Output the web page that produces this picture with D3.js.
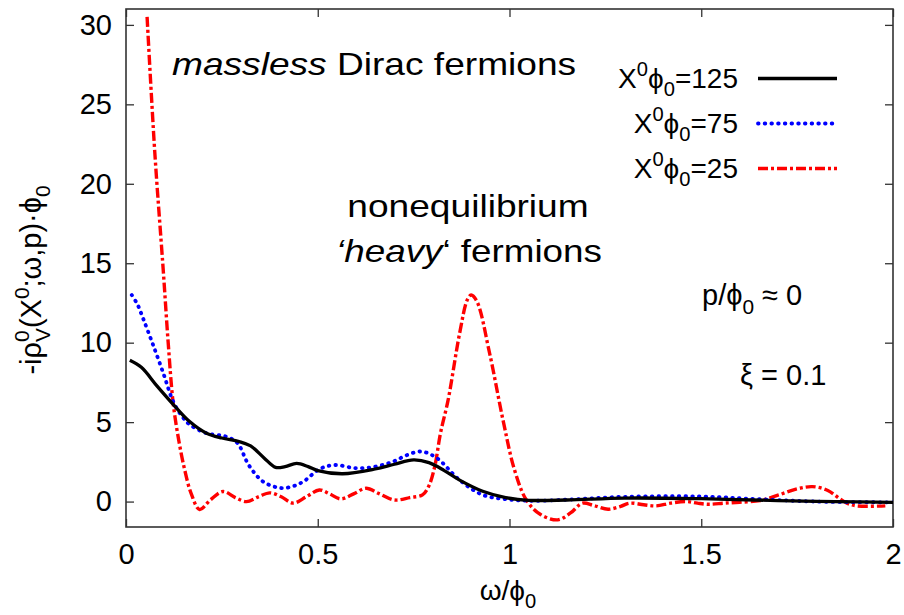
<!DOCTYPE html>
<html>
<head>
<meta charset="utf-8">
<script src="https://d3js.org/d3.v7.min.js"></script>
<style>
  body { margin: 0; background: #fff; }
  svg { font-family: "Liberation Sans", Arial, sans-serif; }
  .tick text { font-size: 29px; fill: #000; }
  .tick line { stroke: #333; stroke-width: 1.3px; }
</style>
</head>
<body>
<svg width="904" height="615"></svg>
<script>
// values
var xTicks = [0, 0.5, 1, 1.5, 2];
var yTicks = [0, 5, 10, 15, 20, 25, 30];

var series125 = [[0.01, 8.9], [0.04, 8.45], [0.08, 7.3], [0.12, 6.2], [0.165, 5.05], [0.21, 4.3],
  [0.25, 4.0], [0.295, 3.78], [0.325, 3.5], [0.36, 2.75], [0.39, 2.15], [0.415, 2.2], [0.445, 2.4],
  [0.475, 2.2], [0.5, 1.95], [0.565, 1.75], [0.65, 2.05], [0.7, 2.35], [0.75, 2.62], [0.79, 2.45],
  [0.83, 1.95], [0.87, 1.35], [0.93, 0.65], [0.99, 0.25], [1.05, 0.08], [1.15, 0.1], [1.3, 0.22],
  [1.5, 0.18], [1.7, 0.06], [1.85, 0.0], [2.0, -0.05]];

var series75 = [[0.015, 13.0], [0.03, 12.4], [0.045, 11.5], [0.07, 9.9], [0.097, 8.1], [0.123, 6.3],
  [0.145, 5.4], [0.166, 4.85], [0.21, 4.3], [0.26, 4.1], [0.29, 3.7], [0.32, 2.3], [0.355, 1.3],
  [0.385, 0.95], [0.41, 0.85], [0.44, 1.0], [0.465, 1.3], [0.505, 2.05], [0.545, 2.3], [0.6, 2.1],
  [0.65, 2.2], [0.695, 2.5], [0.735, 2.95], [0.77, 3.15], [0.81, 2.75], [0.87, 1.35], [0.93, 0.42],
  [0.99, 0.15], [1.05, 0.05], [1.15, 0.12], [1.3, 0.3], [1.5, 0.32], [1.65, 0.15], [1.8, 0.0], [2.0, -0.05]];

var series25 = [[0.055, 30.5], [0.075, 22], [0.097, 14.6], [0.11, 10], [0.123, 6.2], [0.138, 3.8],
  [0.153, 2.0], [0.17, 0.5], [0.192, -0.5], [0.22, 0.1], [0.253, 0.63], [0.285, 0.25], [0.314, 0.0],
  [0.345, 0.3], [0.375, 0.55], [0.405, 0.3], [0.436, -0.1], [0.47, 0.3], [0.504, 0.73], [0.53, 0.5],
  [0.56, 0.17], [0.595, 0.5], [0.626, 0.84], [0.66, 0.5], [0.7, 0.1], [0.74, 0.25], [0.773, 0.42],
  [0.79, 1.0], [0.805, 2.2], [0.82, 4.3], [0.84, 6.4], [0.87, 10.6], [0.89, 12.7], [0.9, 13.0],
  [0.915, 12.6], [0.948, 9.35], [0.983, 5.14], [1.013, 2.0], [1.044, 0.1], [1.08, -0.8], [1.126, -1.15],
  [1.16, -0.7], [1.19, -0.1], [1.22, -0.25], [1.257, -0.48], [1.29, -0.3], [1.313, -0.1], [1.35, -0.2],
  [1.383, -0.27], [1.42, -0.1], [1.461, 0.0], [1.49, -0.1], [1.52, -0.17], [1.56, -0.1], [1.6, -0.04],
  [1.653, 0.06], [1.7, 0.4], [1.75, 0.8], [1.79, 0.94], [1.83, 0.7], [1.86, 0.2], [1.88, -0.1],
  [1.905, -0.27], [1.98, -0.27]];

var legendLabels = ["125", "75", "25"];
var seriesList = [series125, series75, series25];
var colors = ["#000000", "#0000ff", "#ff0000"];
var dashes = [null, "0.6,6.1", "10,3,3,3"];
var widths = [3.3, 3.8, 3.4];
var caps = ["butt", "round", "butt"];

var svg = d3.select("svg");

var x = d3.scaleLinear().domain([0, 2]).range([126, 893]);
var y = d3.scaleLinear().domain([-1.6, 31]).range([527, 9]);

var PHI = "\u03D5";

// writes text made of pieces; sup / sub / stacked pieces
function rich(textSel, parts, size) {
  var shift = 0;
  parts.forEach(function(p) {
    var want = p.sup ? -0.42 * size : (p.sub ? 0.3 * size : 0);
    var t = textSel.append("tspan").text(p.t).attr("dy", want - shift);
    shift = want;
    if (p.sup || p.sub) t.attr("font-size", size * 0.72);
    if (p.it) t.style("font-style", "italic");
    if (p.dx) t.attr("dx", p.dx);
  });
}

svg.append("clipPath").attr("id", "plotclip")
  .append("rect")
  .attr("x", x.range()[0]).attr("y", y.range()[1])
  .attr("width", x.range()[1] - x.range()[0])
  .attr("height", y.range()[0] - y.range()[1]);

// axes, gnuplot style: inward ticks on all sides
svg.append("g")
  .attr("transform", "translate(0," + y.range()[0] + ")")
  .call(d3.axisBottom(x).tickValues(xTicks).tickFormat(d3.format("")).tickSize(-8).tickPadding(16))
  .call(function(g) { g.select(".domain").remove(); });

svg.append("g")
  .attr("transform", "translate(0," + y.range()[1] + ")")
  .call(d3.axisTop(x).tickValues(xTicks).tickFormat("").tickSize(-8))
  .call(function(g) { g.select(".domain").remove(); });

svg.append("g")
  .attr("transform", "translate(" + x.range()[0] + ",0)")
  .call(d3.axisLeft(y).tickValues(yTicks).tickSize(-8).tickPadding(14))
  .call(function(g) { g.select(".domain").remove(); });

svg.append("g")
  .attr("transform", "translate(" + x.range()[1] + ",0)")
  .call(d3.axisRight(y).tickValues(yTicks).tickFormat("").tickSize(-8))
  .call(function(g) { g.select(".domain").remove(); });

svg.selectAll(".tick text").attr("font-family", null).attr("font-size", null);

svg.append("rect")
  .attr("x", x.range()[0]).attr("y", y.range()[1])
  .attr("width", x.range()[1] - x.range()[0])
  .attr("height", y.range()[0] - y.range()[1])
  .attr("fill", "none").attr("stroke", "#333").attr("stroke-width", 1.6);

// curves
var line = d3.line()
  .x(function(d) { return x(d[0]); })
  .y(function(d) { return y(d[1]); })
  .curve(d3.curveCatmullRom.alpha(0.5));

var curves = svg.append("g").attr("clip-path", "url(#plotclip)");
[2, 1, 0].forEach(function(i) {
  curves.append("path")
    .datum(seriesList[i])
    .attr("d", line)
    .attr("fill", "none")
    .attr("stroke", colors[i])
    .attr("stroke-width", widths[i])
    .attr("stroke-linecap", caps[i])
    .attr("stroke-dasharray", dashes[i]);
});

// legend
var legY = [88, 133, 178];
legendLabels.forEach(function(lab, i) {
  var t = svg.append("text")
    .attr("x", 738).attr("y", legY[i])
    .attr("text-anchor", "end")
    .attr("font-size", 28);
  rich(t, [{t: "X"}, {t: "0", sup: true}, {t: PHI}, {t: "0", sub: true}, {t: "=" + lab}], 28);
  svg.append("line")
    .attr("x1", 758).attr("x2", 837)
    .attr("y1", legY[i] - 9.5).attr("y2", legY[i] - 9.5)
    .attr("stroke", colors[i])
    .attr("stroke-width", widths[i])
    .attr("stroke-linecap", caps[i])
    .attr("stroke-dasharray", dashes[i]);
});

// axis titles
var xl = svg.append("text").attr("x", 508).attr("y", 600)
  .attr("text-anchor", "middle").attr("font-size", 28);
rich(xl, [{t: "\u03C9/" + PHI}, {t: "0", sub: true}], 28);

var yl = svg.append("text")
  .attr("transform", "translate(41,280) rotate(-90)")
  .attr("text-anchor", "middle").attr("font-size", 29);
rich(yl, [{t: "-i\u03C1"}, {t: "0", sup: true}, {t: "V", sub: true, dx: -0.56 * 29 * 0.72},
  {t: "(X"}, {t: "0", sup: true}, {t: ";\u03C9,p)\u00B7" + PHI}, {t: "0", sub: true}], 29);

// annotations (slide text, slightly wider)
function note(px, py, anchor, sx, parts, size) {
  var t = svg.append("text")
    .attr("transform", "translate(" + px + "," + py + ") scale(" + sx + ",1)")
    .attr("text-anchor", anchor)
    .attr("font-size", size);
  rich(t, parts, size);
}

note(172, 75, "start", 1.16, [{t: "massless", it: true}, {t: " Dirac fermions"}], 32);
note(468, 217, "middle", 1.16, [{t: "nonequilibrium"}], 32);
note(469, 262, "middle", 1.15, [{t: "\u2018heavy", it: true}, {t: "\u2018 fermions"}], 32);
note(702, 305, "start", 1.0, [{t: "p/" + PHI}, {t: "0", sub: true}, {t: " \u2248 0"}], 29);
note(740, 385, "start", 1.0, [{t: "\u03BE = 0.1"}], 29);
</script>
</body>
</html>
